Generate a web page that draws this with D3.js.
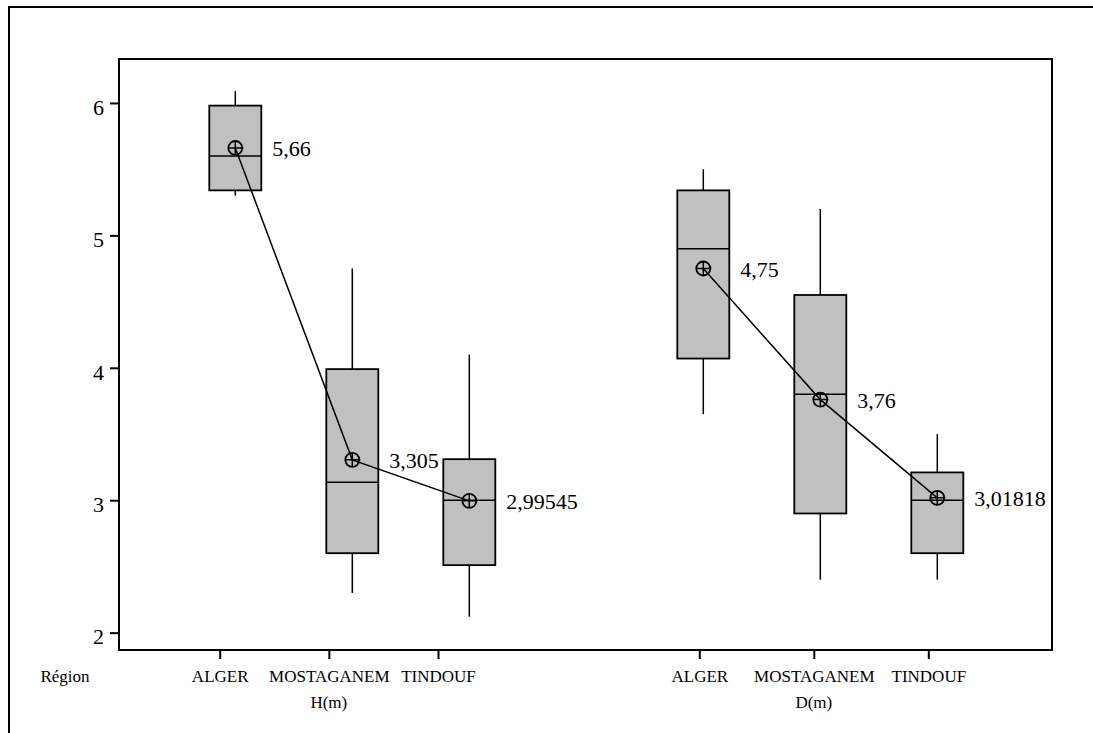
<!DOCTYPE html>
<html>
<head>
<meta charset="utf-8">
<script src="https://cdn.jsdelivr.net/npm/d3@7"></script>
<style>
  html, body { margin: 0; padding: 0; background: #fff; }
  svg { display: block; font-family: "Liberation Serif", "Times New Roman", serif; }
</style>
</head>
<body>
<svg id="chart" width="1093" height="733"></svg>
<script>
// ── Data ─────────────────────────────────────────────────────────────────────
const groups     = ['H(m)', 'D(m)'];
const regions    = ['ALGER', 'MOSTAGANEM', 'TINDOUF'];
const yTicks     = [2, 3, 4, 5, 6];
// per group, per region: [low whisker, Q1, median, Q3, high whisker]
const boxStatsH  = [[5.30, 5.34, 5.60, 5.98, 6.09],
                    [2.30, 2.60, 3.135, 3.99, 4.75],
                    [2.12, 2.51, 3.00, 3.31, 4.10]];
const boxStatsD  = [[3.65, 4.07, 4.90, 5.34, 5.50],
                    [2.40, 2.90, 3.80, 4.55, 5.20],
                    [2.40, 2.60, 3.00, 3.21, 3.50]];
const meansH     = [5.66, 3.305, 2.99545];
const meansD     = [4.75, 3.76, 3.01818];
const meanLabels = [['5,66', '3,305', '2,99545'], ['4,75', '3,76', '3,01818']];

// ── Layout ───────────────────────────────────────────────────────────────────
const PLOT   = { left: 119, top: 59, right: 1052, bottom: 650 };
const BOX_W  = 52;
const MARK_R = 7;
const FILL   = '#c0c0c0';

const svg = d3.select('#chart');

// ── Scales ───────────────────────────────────────────────────────────────────
const y = d3.scaleLinear().domain([1.869, 6.332]).range([PLOT.bottom, PLOT.top]);
// slot index: group*4 + region (slot 3 is the gap between the two groups)
const x = d3.scaleLinear().domain([0, 6]).range([235.3, 937.3]);
// category labels sit a little off the boxes, as in the original output
const tickX = [
  d3.scalePoint().domain(regions).range([219.7, 438]),
  d3.scalePoint().domain(regions).range([699.3, 928.3]),
];

// ── Frames ───────────────────────────────────────────────────────────────────
svg.append('path')
  .attr('d', 'M9,733V7H1093')
  .attr('fill', 'none').attr('stroke', '#000').attr('stroke-width', 2);

svg.append('rect')
  .attr('x', PLOT.left).attr('y', PLOT.top)
  .attr('width', PLOT.right - PLOT.left).attr('height', PLOT.bottom - PLOT.top)
  .attr('fill', 'none').attr('stroke', '#000').attr('stroke-width', 2);

// ── Y axis ───────────────────────────────────────────────────────────────────
const yAxis = svg.append('g')
  .attr('transform', `translate(${PLOT.left},0)`)
  .call(d3.axisLeft(y).tickValues(yTicks).tickSize(9).tickPadding(6).tickFormat(d3.format('d')));
yAxis.select('.domain').remove();
yAxis.selectAll('line').attr('stroke-width', 2);
yAxis.selectAll('text')
  .attr('font-size', 22).attr('font-family', 'Liberation Serif, serif')
  .attr('fill', '#000').attr('dy', '0.51em');

// ── X categories ─────────────────────────────────────────────────────────────
groups.forEach((g, gi) => {
  const gx = svg.append('g')
    .attr('transform', `translate(0,${PLOT.bottom})`)
    .call(d3.axisBottom(tickX[gi]).tickSize(9).tickPadding(0));
  gx.select('.domain').remove();
  gx.selectAll('line').attr('stroke-width', 2);
  gx.selectAll('text')
    .attr('font-size', 17).attr('font-family', 'Liberation Serif, serif')
    .attr('fill', '#000').attr('y', 31.7).attr('dy', 0);

  svg.append('text')
    .attr('x', tickX[gi]('MOSTAGANEM')).attr('y', 708)
    .attr('text-anchor', 'middle').attr('font-size', 17)
    .text(g);
});

svg.append('text')
  .attr('x', 65).attr('y', 681.7)
  .attr('text-anchor', 'middle').attr('font-size', 17)
  .text('Région');

// ── Boxes ────────────────────────────────────────────────────────────────────
const boxData = [];
[boxStatsH, boxStatsD].forEach((stats, gi) => {
  const means = gi === 0 ? meansH : meansD;
  stats.forEach((s, ri) => {
    boxData.push({ gi, ri, slot: gi * 4 + ri, s, mean: means[ri], label: meanLabels[gi][ri] });
  });
});

const boxG = svg.selectAll('g.box')
  .data(boxData)
  .join('g').attr('class', 'box');

// whiskers
boxG.append('line')
  .attr('x1', d => x(d.slot)).attr('x2', d => x(d.slot))
  .attr('y1', d => y(d.s[0])).attr('y2', d => y(d.s[1]))
  .attr('stroke', '#000').attr('stroke-width', 1.5);
boxG.append('line')
  .attr('x1', d => x(d.slot)).attr('x2', d => x(d.slot))
  .attr('y1', d => y(d.s[3])).attr('y2', d => y(d.s[4]))
  .attr('stroke', '#000').attr('stroke-width', 1.5);

// box body
boxG.append('rect')
  .attr('x', d => x(d.slot) - BOX_W / 2).attr('width', BOX_W)
  .attr('y', d => y(d.s[3])).attr('height', d => y(d.s[1]) - y(d.s[3]))
  .attr('fill', FILL).attr('stroke', '#000').attr('stroke-width', 1.8);

// median
boxG.append('line')
  .attr('x1', d => x(d.slot) - BOX_W / 2).attr('x2', d => x(d.slot) + BOX_W / 2)
  .attr('y1', d => y(d.s[2])).attr('y2', d => y(d.s[2]))
  .attr('stroke', '#000').attr('stroke-width', 1.5);

// ── Mean connect lines ───────────────────────────────────────────────────────
const meanLine = d3.line().x(d => x(d.slot)).y(d => y(d.mean));
groups.forEach((g, gi) => {
  svg.append('path')
    .datum(boxData.filter(d => d.gi === gi))
    .attr('d', meanLine)
    .attr('fill', 'none').attr('stroke', '#000').attr('stroke-width', 1.5);
});

// ── Mean markers + labels ────────────────────────────────────────────────────
const markG = svg.selectAll('g.mean')
  .data(boxData)
  .join('g').attr('class', 'mean')
  .attr('transform', d => `translate(${x(d.slot)},${y(d.mean)})`);

markG.append('circle')
  .attr('r', MARK_R).attr('fill', 'none')
  .attr('stroke', '#000').attr('stroke-width', 1.8);
markG.append('path')
  .attr('d', `M${-MARK_R},0H${MARK_R + 1}M0,${-MARK_R}V${MARK_R}`)
  .attr('stroke', '#000').attr('stroke-width', 1.5);

svg.selectAll('text.mean-label')
  .data(boxData)
  .join('text').attr('class', 'mean-label')
  .attr('x', d => x(d.slot) + 37)
  .attr('y', d => y(d.mean) + 8.5)
  .attr('font-size', 22)
  .text(d => d.label);
</script>
</body>
</html>
